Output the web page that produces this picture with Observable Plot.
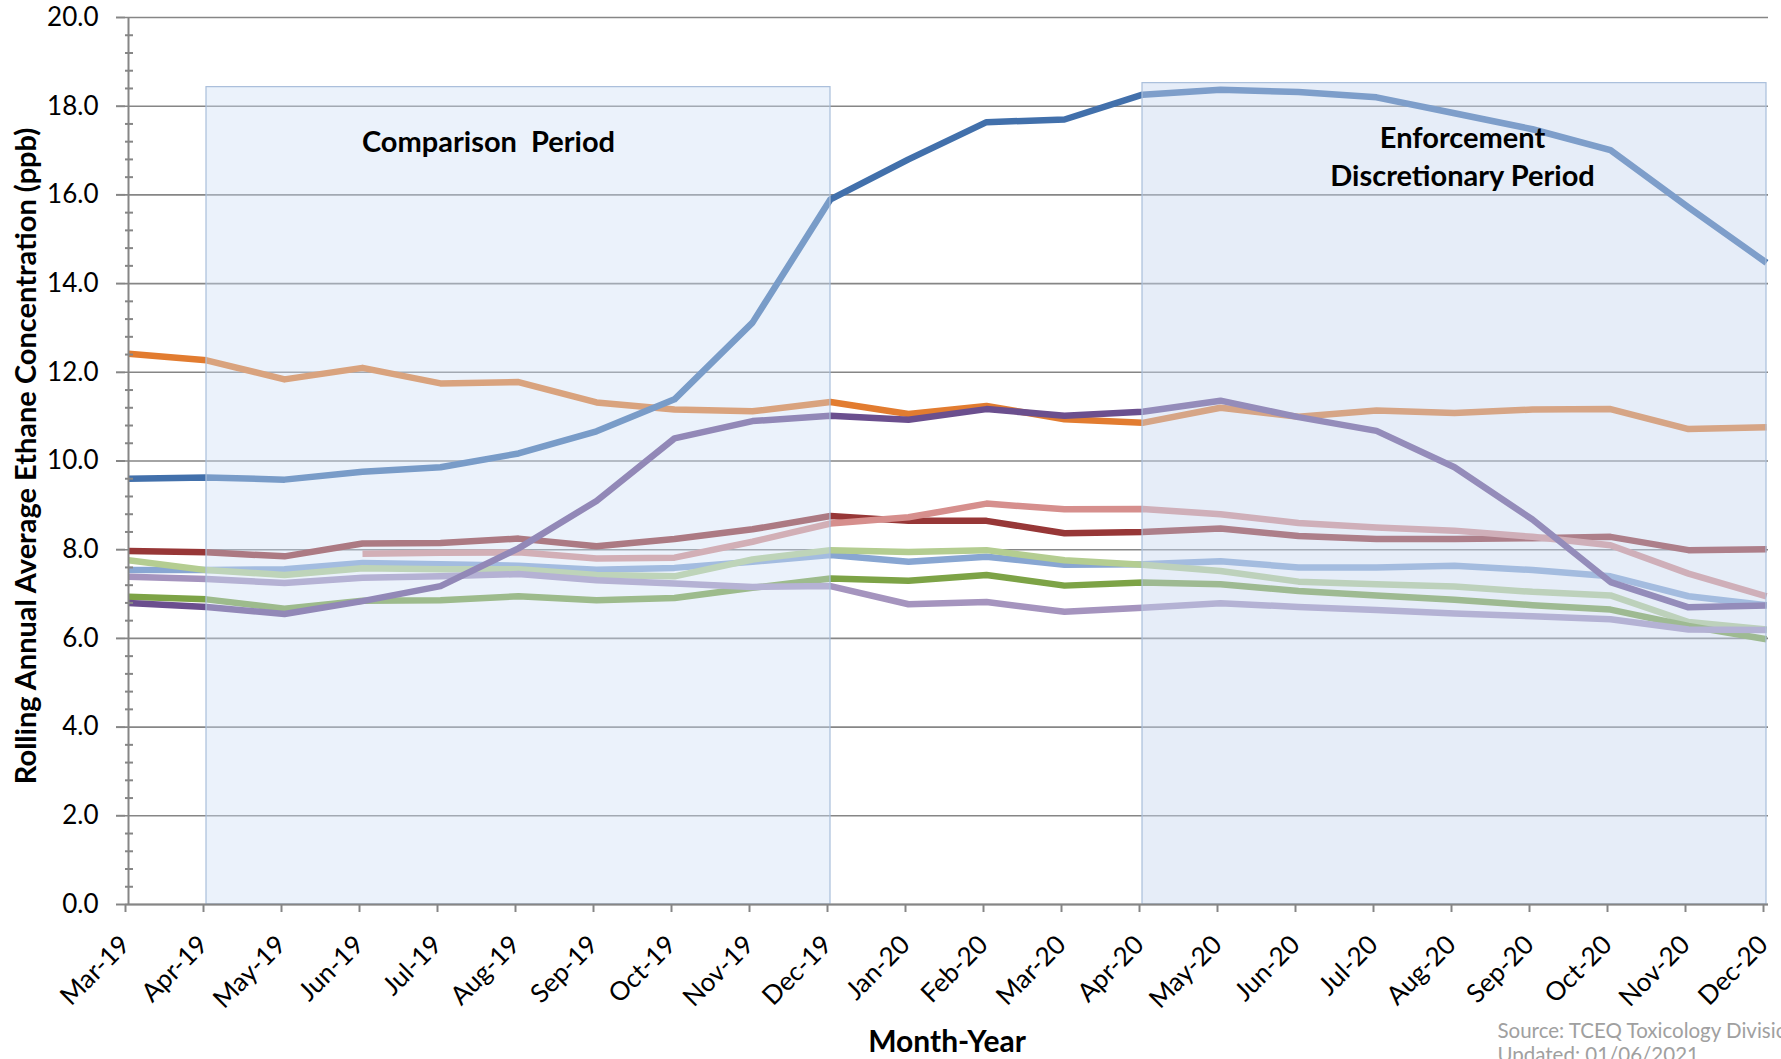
<!DOCTYPE html>
<html><head><meta charset="utf-8">
<script src="https://cdn.jsdelivr.net/npm/d3@7"></script>
<script src="https://cdn.jsdelivr.net/npm/@observablehq/plot@0.6"></script>
<style>
html,body{margin:0;padding:0;background:#fff;overflow:hidden}
</style>
</head><body><div id="chart"></div>
<script>
const months = ["Mar-19","Apr-19","May-19","Jun-19","Jul-19","Aug-19","Sep-19","Oct-19","Nov-19","Dec-19","Jan-20","Feb-20","Mar-20","Apr-20","May-20","Jun-20","Jul-20","Aug-20","Sep-20","Oct-20","Nov-20","Dec-20"];

const blue        = [9.60, 9.63, 9.58, 9.76, 9.86, 10.17, 10.67, 11.39, 13.12, 15.90, 16.80, 17.64, 17.70, 18.26, 18.37, 18.32, 18.20, 17.84, 17.48, 17.01, 15.72, 14.47];
const orange      = [12.42, 12.27, 11.84, 12.10, 11.75, 11.78, 11.32, 11.16, 11.12, 11.33, 11.06, 11.24, 10.94, 10.86, 11.20, 11.00, 11.14, 11.08, 11.16, 11.17, 10.72, 10.76];
const purple      = [6.80, 6.71, 6.55, 6.84, 7.18, 8.03, 9.10, 10.51, 10.90, 11.02, 10.93, 11.17, 11.02, 11.11, 11.36, 10.99, 10.68, 9.86, 8.68, 7.27, 6.70, 6.74];
const darkRed     = [7.97, 7.94, 7.85, 8.14, 8.15, 8.25, 8.08, 8.24, 8.46, 8.76, 8.65, 8.65, 8.37, 8.40, 8.48, 8.31, 8.24, 8.24, 8.26, 8.29, 7.99, 8.01];
const pink        = [null, null, null, 7.91, 7.93, 7.94, 7.80, 7.82, 8.18, 8.59, 8.73, 9.04, 8.91, 8.92, 8.80, 8.60, 8.50, 8.43, 8.29, 8.10, 7.46, 6.95];
const lightBlue   = [7.54, 7.54, 7.56, 7.70, 7.67, 7.64, 7.55, 7.59, 7.73, 7.88, 7.73, 7.84, 7.66, 7.67, 7.74, 7.60, 7.60, 7.64, 7.54, 7.40, 6.95, 6.75];
const lightGreen  = [7.76, 7.54, 7.43, 7.58, 7.56, 7.56, 7.43, 7.40, 7.78, 7.99, 7.95, 7.99, 7.76, 7.66, 7.52, 7.28, 7.22, 7.17, 7.05, 6.97, 6.37, 6.20];
const green       = [6.94, 6.88, 6.67, 6.85, 6.86, 6.95, 6.86, 6.91, 7.14, 7.35, 7.30, 7.43, 7.19, 7.26, 7.22, 7.07, 6.97, 6.87, 6.75, 6.65, 6.28, 5.98];
const lightPurple = [7.39, 7.34, 7.25, 7.37, 7.40, 7.45, 7.31, 7.24, 7.16, 7.18, 6.77, 6.82, 6.60, 6.69, 6.79, 6.71, 6.64, 6.56, 6.50, 6.43, 6.20, 6.19];

const yMajorTicks = [0, 2, 4, 6, 8, 10, 12, 14, 16, 18, 20];
const yMinorTicks = d3.range(0, 100).map(i => i * 0.4).filter(v => v <= 20 && Math.abs(v / 2 - Math.round(v / 2)) > 1e-6);

const periodStart = ["Apr-19", "Apr-20"];
const periodEnd   = ["Dec-19", "Dec-20"];
const periodTop   = [18.43, 18.52];
const periodLabel = ["Comparison  Period", "Enforcement\nDiscretionary Period"];

const seriesList = [
  {values: darkRed, color: "#973737"},
  {values: pink, color: "#d68f8d"},
  {values: lightBlue, color: "#88a6d2"},
  {values: lightGreen, color: "#b4cd91"},
  {values: green, color: "#7da346"},
  {values: lightPurple, color: "#a594be"},
  {values: orange, color: "#e27c30"},
  {values: purple, color: "#6b4f8e"},
  {values: blue, color: "#4270ab"}
];

const lineMarks = seriesList.map(s => {
  const rows = [];
  s.values.forEach((v, i) => { if (v != null) rows.push({month: months[i], value: v}); });
  return Plot.line(rows, {x: "month", y: "value", stroke: s.color, strokeWidth: 6.5, strokeLinejoin: "round", strokeLinecap: "butt"});
});

const periods = periodStart.map((s, i) => ({start: s, end: periodEnd[i], top: periodTop[i], bottom: 0, label: periodLabel[i],
  mid: months[Math.round((months.indexOf(s) + months.indexOf(periodEnd[i])) / 2)]}));

const gray = "#868686";

const chart = Plot.plot({
  width: 1781,
  height: 1059,
  marginLeft: 125,
  marginRight: 13,
  marginTop: 17,
  marginBottom: 155,
  style: {fontFamily: "Lato, sans-serif", background: "#fff", color: "#000"},
  x: {type: "point", domain: months, padding: 0, axis: null},
  y: {domain: [0, 20], axis: null},
  marks: [
    Plot.gridY(yMajorTicks, {stroke: gray, strokeOpacity: 1, strokeWidth: 1.6}),
    ...lineMarks,
    Plot.rect([periods[0]], {x1: "start", x2: "end", y1: "bottom", y2: "top", fill: "#cddef4", fillOpacity: 0.4, stroke: "#a9bedb", strokeWidth: 1.2}),
    Plot.rect([periods[1]], {x1: "start", x2: "end", y1: "bottom", y2: "top", fill: "#c8d7f0", fillOpacity: 0.45, stroke: "#a9bedb", strokeWidth: 1.2}),
    Plot.ruleY([0], {stroke: gray, strokeWidth: 2}),
    Plot.ruleX([months[0]], {stroke: gray, strokeWidth: 2}),
    Plot.axisY({ticks: yMajorTicks, tickSize: 9, tickPadding: 18, tickFormat: d => d.toFixed(1), fontSize: 26, stroke: gray, strokeWidth: 2, fill: "#000"}),
    Plot.axisY({ticks: yMinorTicks, tickSize: -8, tickFormat: () => "", stroke: gray, strokeWidth: 2}),
    Plot.axisX({tickRotate: -45, tickSize: 8, tickPadding: 28, dx: -3, fontSize: 26, stroke: gray, strokeWidth: 2, fill: "#000"}),
    Plot.text([periods[0]], {x: "mid", text: "label", frameAnchor: "top", lineAnchor: "middle", dy: 125, dx: -30, fontSize: 29, fontWeight: "bold", fill: "#000"}),
    Plot.text([periods[1]], {x: "mid", text: "label", frameAnchor: "top", lineAnchor: "middle", dy: 137, dx: 8, fontSize: 29, fontWeight: "bold", lineHeight: 1.33, fill: "#000"}),
    Plot.text(["Rolling Annual Average Ethane Concentration (ppb)"], {frameAnchor: "left", textAnchor: "middle", lineAnchor: "middle", rotate: -90, dx: -99, dy: -5, fontSize: 29, fontWeight: "bold", fill: "#000"}),
    Plot.text(["Month-Year"], {frameAnchor: "bottom", lineAnchor: "middle", dy: 138, fontSize: 30, fontWeight: "bold", fill: "#000"}),
    Plot.text(["Source: TCEQ Toxicology Division"], {frameAnchor: "bottom-right", textAnchor: "start", lineAnchor: "middle", dx: -271, dy: 127, fontSize: 20.5, fill: "#a0a0a0"}),
    Plot.text(["Updated: 01/06/2021"], {frameAnchor: "bottom-right", textAnchor: "start", lineAnchor: "middle", dx: -271, dy: 151, fontSize: 20.5, fill: "#a0a0a0"})
  ]
});
document.getElementById("chart").appendChild(chart);
</script>
</body></html>
